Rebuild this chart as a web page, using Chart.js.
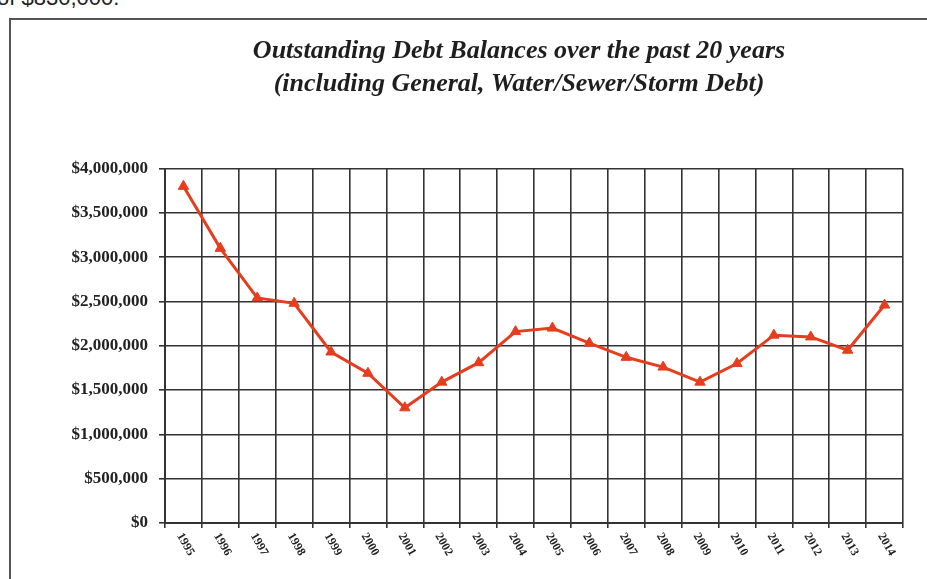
<!DOCTYPE html>
<html>
<head>
<meta charset="utf-8">
<script src="https://cdn.jsdelivr.net/npm/chart.js@4"></script>
<style>
  html, body { margin: 0; padding: 0; background: #fff; overflow: hidden; }
  #wrap { position: relative; width: 927px; height: 579px; }
  #lead { position: absolute; left: -3px; top: -15px; font: 22px "Liberation Sans", Arial, sans-serif; color: #222; white-space: nowrap; }
  #frame { position: absolute; left: 9px; top: 18px; width: 940px; height: 600px; border-top: 2px solid #555; border-left: 2px solid #555; pointer-events: none; }
  #chart { position: absolute; left: 0; top: 0; }
</style>
</head>
<body>
<div id="wrap">
  <div id="lead">of $830,000.</div>
  <div id="frame"></div>
  <canvas id="chart" width="927" height="579"></canvas>
</div>
<script>
// Outstanding debt at year end, 1995-2014
const years = ['1995', '1996', '1997', '1998', '1999', '2000', '2001', '2002', '2003', '2004',
               '2005', '2006', '2007', '2008', '2009', '2010', '2011', '2012', '2013', '2014'];
const debtBalances = [3800000, 3100000, 2540000, 2480000, 1930000, 1690000, 1300000, 1590000, 1810000, 2160000,
                      2200000, 2030000, 1870000, 1760000, 1590000, 1800000, 2120000, 2100000, 1950000, 2460000];
const yTickValues = [0, 500000, 1000000, 1500000, 2000000, 2500000, 3000000, 3500000, 4000000];

const titleLines = [
  'Outstanding Debt Balances over the past 20 years',
  '(including General, Water/Sewer/Storm Debt)'
];

const gridColor = '#333';
const lineColor = '#e53d1e';

// title sits a little right of the page centre
const titleSpan = {
  id: 'titleSpan',
  afterLayout(chart) {
    if (chart.titleBlock) {
      chart.titleBlock.left = 135;
      chart.titleBlock.right = 903;
    }
  }
};

// year labels run downward to the right, so draw them by hand
const slantedYears = {
  id: 'slantedYears',
  afterDraw(chart) {
    const xs = chart.scales.x;
    const ctx = chart.ctx;
    ctx.save();
    ctx.fillStyle = '#222';
    ctx.font = 'bold 12px "Liberation Serif", "Times New Roman", serif';
    ctx.textAlign = 'left';
    ctx.textBaseline = 'middle';
    chart.data.labels.forEach((lab, i) => {
      const x = xs.getPixelForValue(i);
      ctx.save();
      ctx.translate(x - 4, xs.top + 11);
      ctx.rotate(60 * Math.PI / 180);
      ctx.fillText(lab, 0, 0);
      ctx.restore();
    });
    ctx.restore();
  }
};

new Chart(document.getElementById('chart'), {
  type: 'line',
  data: {
    labels: years,
    datasets: [{
      data: debtBalances,
      borderColor: lineColor,
      backgroundColor: lineColor,
      borderWidth: 3,
      pointStyle: 'triangle',
      pointRadius: 6,
      pointBorderWidth: 1,
      tension: 0,
      fill: false
    }]
  },
  options: {
    responsive: false,
    animation: false,
    layout: { padding: { left: 40, right: 24, top: 0, bottom: 0 } },
    plugins: {
      legend: { display: false },
      tooltip: { enabled: false },
      title: {
        display: true,
        text: titleLines,
        color: '#1e1e1e',
        font: { family: '"Liberation Serif", "Times New Roman", serif', size: 26, style: 'italic', weight: 'bold', lineHeight: 1.3 },
        padding: { top: 34, bottom: 67 }
      }
    },
    scales: {
      x: {
        offset: true,
        grid: { offset: true, color: gridColor, lineWidth: 1.6, tickLength: 5 },
        border: { color: gridColor, width: 2 },
        ticks: { display: false },
        afterFit: (scale) => { scale.height = 56; }
      },
      y: {
        min: 0,
        max: 4000000,
        afterBuildTicks: (scale) => { scale.ticks = yTickValues.map(v => ({ value: v })); },
        afterFit: (scale) => { scale.width = 125; },
        grid: { color: gridColor, lineWidth: 1.6, tickLength: 6 },
        border: { color: gridColor, width: 2 },
        ticks: {
          padding: 11,
          color: '#222',
          font: { family: '"Liberation Serif", "Times New Roman", serif', size: 17, weight: 'bold' },
          callback: (v) => '$' + v.toLocaleString('en-US')
        }
      }
    }
  },
  plugins: [titleSpan, slantedYears]
});
</script>
</body>
</html>
